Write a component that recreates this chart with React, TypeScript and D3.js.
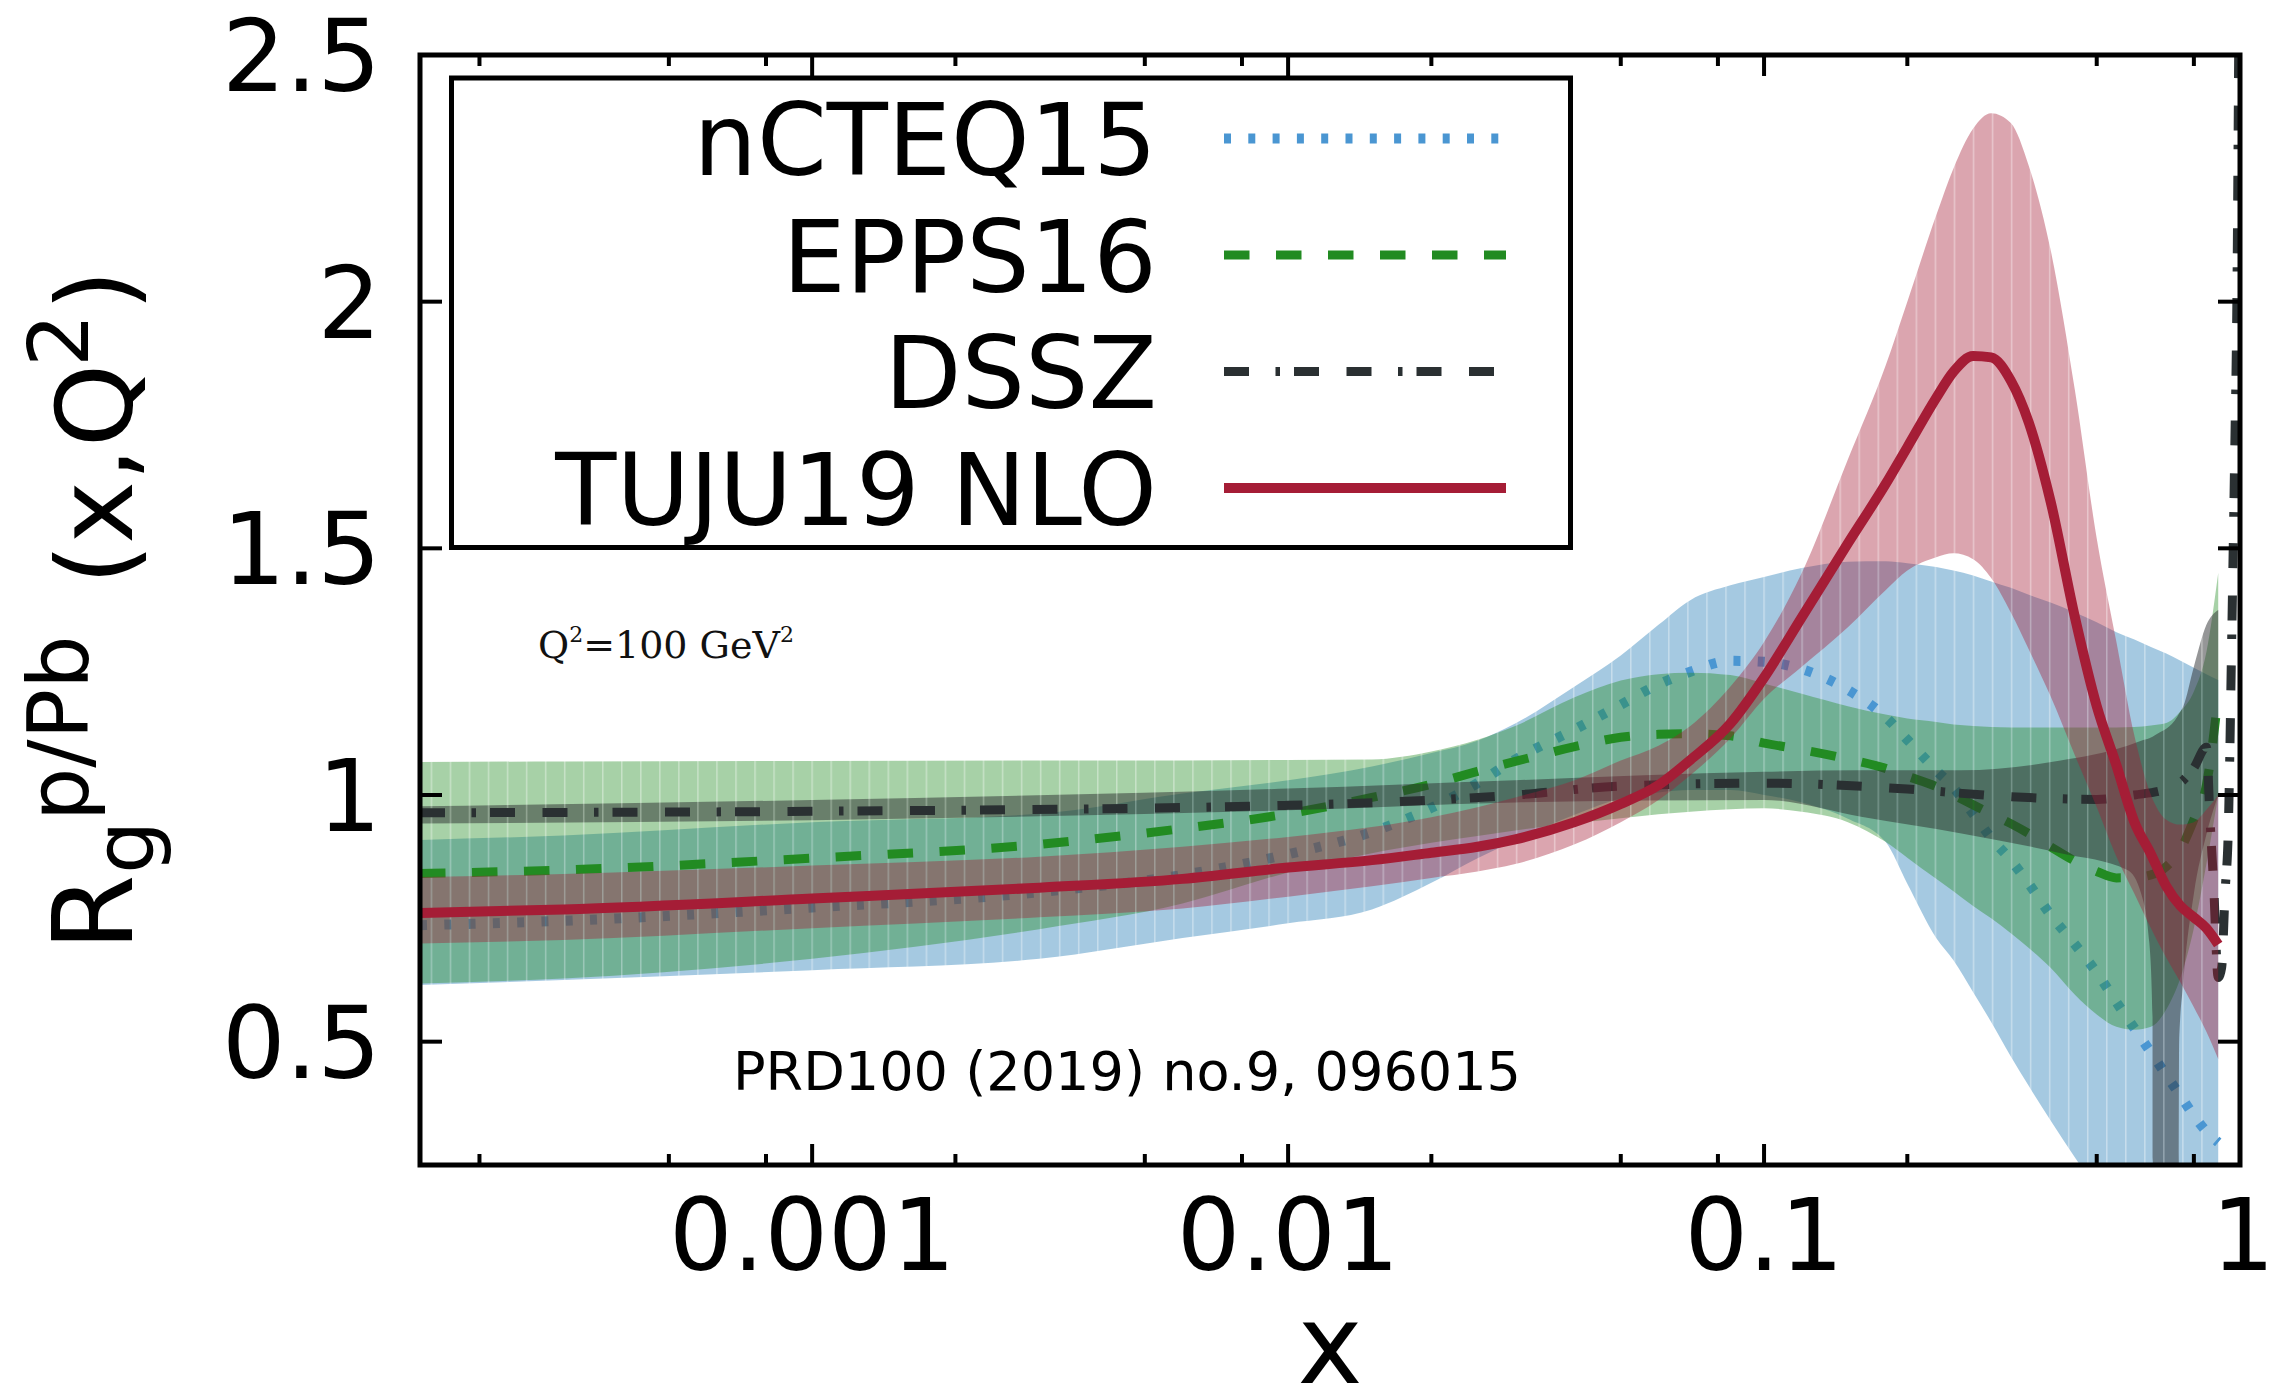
import React from "react";
import * as d3 from "d3";

const W = 2285;
const H = 1388;

// shared x grid for nCTEQ15, EPPS16, TUJU19
const xGrid = [1.5e-4, 3e-4, 1e-3, 3e-3, 0.006, 0.01, 0.015, 0.02, 0.025, 0.03, 0.04, 0.05, 0.06, 0.07, 0.085, 0.1, 0.12, 0.15, 0.18, 0.2, 0.23, 0.25, 0.275, 0.3, 0.33, 0.36, 0.4, 0.45, 0.5, 0.55, 0.6, 0.65, 0.7, 0.75, 0.8, 0.85, 0.9];

const nctCenter = [0.736, 0.745, 0.772, 0.803, 0.838, 0.88, 0.925, 0.974, 1.024, 1.072, 1.133, 1.183, 1.224, 1.25, 1.272, 1.27, 1.255, 1.213, 1.158, 1.112, 1.05, 1.015, 0.962, 0.913, 0.868, 0.82, 0.757, 0.697, 0.64, 0.58, 0.527, 0.478, 0.432, 0.39, 0.35, 0.318, 0.296];
const nctLower = [0.615, 0.625, 0.645, 0.668, 0.71, 0.74, 0.768, 0.822, 0.872, 0.908, 0.96, 0.993, 1.005, 1.01, 1.01, 1.0, 0.985, 0.952, 0.905, 0.82, 0.71, 0.665, 0.6, 0.54, 0.47, 0.41, 0.34, 0.265, 0.2, 0.13, 0.07, 0.01, -0.04, -0.09, -0.14, -0.19, -0.24];
const nctUpper = [0.909, 0.918, 0.945, 0.962, 1.003, 1.03, 1.058, 1.085, 1.11, 1.145, 1.22, 1.283, 1.345, 1.395, 1.425, 1.442, 1.46, 1.473, 1.474, 1.47, 1.462, 1.455, 1.445, 1.433, 1.42, 1.406, 1.39, 1.37, 1.35, 1.33, 1.315, 1.3, 1.287, 1.272, 1.258, 1.245, 1.233];

const eppsCenter = [0.841, 0.848, 0.872, 0.9, 0.932, 0.962, 0.995, 1.022, 1.048, 1.068, 1.098, 1.117, 1.123, 1.124, 1.12, 1.105, 1.092, 1.073, 1.054, 1.038, 1.017, 1.0, 0.98, 0.962, 0.942, 0.922, 0.895, 0.866, 0.845, 0.832, 0.833, 0.838, 0.855, 0.89, 0.95, 1.02, 1.2];
const eppsLower = [0.618, 0.628, 0.668, 0.728, 0.78, 0.843, 0.882, 0.903, 0.917, 0.928, 0.943, 0.953, 0.961, 0.966, 0.971, 0.973, 0.966, 0.945, 0.905, 0.873, 0.83, 0.805, 0.775, 0.75, 0.72, 0.69, 0.65, 0.595, 0.555, 0.53, 0.524, 0.53, 0.565, 0.63, 0.73, 0.86, 1.0];
const eppsUpper = [1.067, 1.068, 1.069, 1.07, 1.07, 1.071, 1.072, 1.088, 1.112, 1.14, 1.198, 1.232, 1.245, 1.248, 1.243, 1.226, 1.205, 1.18, 1.163, 1.155, 1.148, 1.143, 1.14, 1.138, 1.137, 1.137, 1.137, 1.137, 1.137, 1.137, 1.138, 1.141, 1.146, 1.17, 1.21, 1.29, 1.45];

const tujuCenter = [0.761, 0.768, 0.79, 0.812, 0.83, 0.853, 0.868, 0.883, 0.895, 0.91, 0.945, 0.982, 1.02, 1.071, 1.145, 1.238, 1.36, 1.51, 1.63, 1.705, 1.805, 1.858, 1.89, 1.887, 1.84, 1.755, 1.595, 1.36, 1.18, 1.06, 0.945, 0.88, 0.815, 0.775, 0.752, 0.73, 0.697];
const tujuLower = [0.699, 0.706, 0.73, 0.752, 0.77, 0.794, 0.815, 0.832, 0.845, 0.86, 0.9, 0.945, 0.99, 1.04, 1.115, 1.195, 1.26, 1.34, 1.415, 1.455, 1.482, 1.49, 1.478, 1.44, 1.37, 1.295, 1.2, 1.08, 0.975, 0.875, 0.8, 0.73, 0.67, 0.62, 0.57, 0.52, 0.465];
const tujuUpper = [0.834, 0.84, 0.857, 0.875, 0.895, 0.915, 0.935, 0.955, 0.975, 0.995, 1.03, 1.07, 1.1, 1.14, 1.22, 1.31, 1.45, 1.68, 1.87, 2.0, 2.175, 2.27, 2.351, 2.382, 2.362, 2.275, 2.105, 1.82, 1.52, 1.31, 1.12, 1.0, 0.95, 0.94, 0.945, 0.97, 1.0];

// DSSZ has its own grids
const dsszX = [1.5e-4, 1e-3, 0.01, 0.03, 0.05, 0.1, 0.2, 0.3, 0.4, 0.5, 0.6, 0.7, 0.76, 0.8, 0.85, 0.865, 0.88, 0.9, 0.915, 0.93, 0.945, 0.96, 0.975, 0.985, 0.995];
const dsszCenter = [0.964, 0.967, 0.979, 1.0, 1.018, 1.024, 1.012, 0.999, 0.993, 0.991, 1.0, 1.012, 1.03, 1.055, 1.097, 0.95, 0.82, 0.63, 0.65, 0.8, 0.93, 1.3, 1.7, 2.0, 2.6];
const dsszBandX = [1.5e-4, 1e-3, 0.01, 0.03, 0.1, 0.16, 0.26, 0.42, 0.58, 0.62, 0.645, 0.655, 0.66, 0.74, 0.745, 0.76, 0.8, 0.85, 0.9];
const dsszLower = [0.942, 0.949, 0.969, 0.985, 0.99, 0.956, 0.922, 0.882, 0.848, 0.8, 0.7, 0.55, -1, -1, 0.5, 0.62, 0.8, 0.92, 1.0];
const dsszUpper = [0.977, 0.99, 1.013, 1.03, 1.047, 1.05, 1.05, 1.07, 1.1, 1.11, 1.115, 1.118, 1.12, 1.16, 1.165, 1.18, 1.26, 1.345, 1.375];

const xMajorTicks = [1e-3, 1e-2, 1e-1];
const xTickLabels = ["0.001", "0.01", "0.1", "1"];
const xLabelValues = [1e-3, 1e-2, 1e-1, 1];
const xMinorMantissa = [2, 5, 8];
const xMinorDecades = [1e-4, 1e-3, 1e-2, 1e-1];
const yTicks = [0.5, 1, 1.5, 2];
const yLabelValues = [0.5, 1, 1.5, 2, 2.5];
const yTickLabels = ["0.5", "1", "1.5", "2", "2.5"];

const legendNames = ["nCTEQ15", "EPPS16", "DSSZ", "TUJU19 NLO"];

const BLUE_BAND = "#1f77b4";
const BLUE_LINE = "#4a96d2";
const GREEN = "#228b22";
const DSSZ_BAND = "#2c2e30";
const DSSZ_LINE = "#2a3032";
const RED = "#a51d36";

const DOTTED = "7,17.3";
const DASHED = "25.5,26.5";
const DASHDOT = "25,26.5,4.5,14,25,27.5";

const FONT = "DejaVu Sans";

export default function App() {
  const xs = d3.scaleLog().domain([1.5e-4, 1]).range([420, 2240]);
  const ys = d3.scaleLinear().domain([0.25, 2.5]).range([1165, 55]);
  const X0 = xs(1.5e-4), X1 = xs(1), Y0 = ys(2.5), Y1 = ys(0.25);

  const band = (xv: number[], lo: number[], hi: number[]) =>
    d3
      .area<number>()
      .x((_, i) => xs(xv[i]))
      .y0((_, i) => ys(lo[i]))
      .y1((_, i) => ys(hi[i]))
      .curve(d3.curveMonotoneX)(xv) as string;
  const line = (xv: number[], yv: number[]) =>
    d3
      .line<number>()
      .x((_, i) => xs(xv[i]))
      .y((_, i) => ys(yv[i]))
      .curve(d3.curveMonotoneX)(xv) as string;

  const stripeStart = xs(Math.pow(10, -3.8));
  const stripeStep = xs(Math.pow(10, -3.76)) - stripeStart;

  const minorTicks: number[] = [];
  xMinorDecades.forEach((d) =>
    xMinorMantissa.forEach((m) => {
      const v = m * d;
      if (v > 1.5e-4 && v < 1) minorTicks.push(v);
    })
  );

  const legendY = [138.5, 255, 371.5, 488];
  const legendBase = [175, 291.5, 408, 524.5];
  const legendStyles = [
    { stroke: BLUE_LINE, dash: DOTTED, w: 10 },
    { stroke: GREEN, dash: DASHED, w: 9 },
    { stroke: DSSZ_LINE, dash: DASHDOT, w: 9 },
    { stroke: RED, dash: "none", w: 10 },
  ];

  return (
    <svg
      width={W}
      height={H}
      viewBox={`0 0 ${W} ${H}`}
      style={{ position: "absolute", left: 0, top: 0, display: "block", background: "#fff" }}
    >
      <defs>
        <clipPath id="plotClip">
          <rect x={X0} y={Y0} width={X1 - X0} height={Y1 - Y0} />
        </clipPath>
        <pattern id="stripes" patternUnits="userSpaceOnUse" x={stripeStart - 0.75} y={0} width={stripeStep} height={H}>
          <rect x={0} y={0} width={stripeStep} height={H} fill="#ffffff" />
          <rect x={0} y={0} width={1.5} height={H} fill="#a0a0a0" />
        </pattern>
        <mask id="stripeMask" maskUnits="userSpaceOnUse" x={0} y={0} width={W} height={H}>
          <rect x={0} y={0} width={W} height={H} fill="url(#stripes)" />
        </mask>
      </defs>

      <rect x={0} y={0} width={W} height={H} fill="#ffffff" />

      <g clipPath="url(#plotClip)">
        <path d={band(xGrid, nctLower, nctUpper)} fill={BLUE_BAND} fillOpacity={0.4} mask="url(#stripeMask)" />
        <path d={line(xGrid, nctCenter)} fill="none" stroke={BLUE_LINE} strokeWidth={10} strokeDasharray={DOTTED} />

        <path d={band(xGrid, eppsLower, eppsUpper)} fill={GREEN} fillOpacity={0.4} mask="url(#stripeMask)" />
        <path d={line(xGrid, eppsCenter)} fill="none" stroke={GREEN} strokeWidth={9} strokeDasharray={DASHED} />

        <path d={band(dsszBandX, dsszLower, dsszUpper)} fill={DSSZ_BAND} fillOpacity={0.5} mask="url(#stripeMask)" />
        <path d={line(dsszX, dsszCenter)} fill="none" stroke={DSSZ_LINE} strokeWidth={9} strokeDasharray={DASHDOT} />

        <path d={band(xGrid, tujuLower, tujuUpper)} fill={RED} fillOpacity={0.4} mask="url(#stripeMask)" />
        <path d={line(xGrid, tujuCenter)} fill="none" stroke={RED} strokeWidth={10} strokeLinejoin="round" />
      </g>

      {/* annotations */}
      <text x={538} y={658} fontFamily="DejaVu Serif" fontSize={38} fill="#111">
        Q
        <tspan fontSize={22} dy={-16}>2</tspan>
        <tspan fontSize={38} dy={16}>=100 GeV</tspan>
        <tspan fontSize={22} dy={-16}>2</tspan>
      </text>
      <text x={733} y={1090} fontFamily={FONT} fontSize={53} textLength={788} lengthAdjust="spacingAndGlyphs" fill="#000">
        PRD100 (2019) no.9, 096015
      </text>

      {/* legend */}
      <rect x={451.5} y={78} width={1119} height={469.5} fill="none" stroke="#000" strokeWidth={5} />
      {legendNames.map((name, i) => (
        <g key={name}>
          <text x={1157} y={legendBase[i]} textAnchor="end" fontFamily={FONT} fontSize={100} fill="#000">
            {name}
          </text>
          <line
            x1={1224}
            x2={1506}
            y1={legendY[i]}
            y2={legendY[i]}
            stroke={legendStyles[i].stroke}
            strokeWidth={legendStyles[i].w}
            strokeDasharray={legendStyles[i].dash}
          />
        </g>
      ))}

      {/* ticks */}
      <g stroke="#000" strokeWidth={4}>
        {xMajorTicks.map((v) => (
          <g key={"xM" + v}>
            <line x1={xs(v)} x2={xs(v)} y1={Y1} y2={Y1 - 21} />
            <line x1={xs(v)} x2={xs(v)} y1={Y0} y2={Y0 + 21} />
          </g>
        ))}
        {minorTicks.map((v) => (
          <g key={"xm" + v}>
            <line x1={xs(v)} x2={xs(v)} y1={Y1} y2={Y1 - 11} />
            <line x1={xs(v)} x2={xs(v)} y1={Y0} y2={Y0 + 11} />
          </g>
        ))}
        {yTicks.map((v) => (
          <g key={"y" + v}>
            <line x1={X0} x2={X0 + 22} y1={ys(v)} y2={ys(v)} />
            <line x1={X1} x2={X1 - 22} y1={ys(v)} y2={ys(v)} />
          </g>
        ))}
      </g>

      {/* frame */}
      <rect x={X0} y={Y0} width={X1 - X0} height={Y1 - Y0} fill="none" stroke="#000" strokeWidth={5} />

      {/* tick labels */}
      {xLabelValues.map((v, i) => (
        <text key={"xl" + v} x={xs(v) + (v === 1 ? 3 : 0)} y={1270} textAnchor="middle" fontFamily={FONT} fontSize={100} fill="#000">
          {xTickLabels[i]}
        </text>
      ))}
      {yLabelValues.map((v, i) => (
        <text key={"yl" + v} x={381} y={ys(v) + 36} textAnchor="end" fontFamily={FONT} fontSize={100} fill="#000">
          {yTickLabels[i]}
        </text>
      ))}

      {/* axis titles */}
      <text x={(X0 + X1) / 2} y={1383} textAnchor="middle" fontFamily={FONT} fontSize={110} fill="#000">
        x
      </text>
      <g transform="translate(132,947) rotate(-90)" fontFamily={FONT} fill="#000">
        <text x={-4} y={0} fontSize={110}>R</text>
        <text x={73} y={22} fontSize={84}>g</text>
        <text x={126} y={-44} fontSize={84}>p/Pb</text>
        <text x={362} y={0} fontSize={106}>(x,Q</text>
        <text x={580} y={-44} fontSize={84}>2</text>
        <text x={636} y={0} fontSize={106}>)</text>
      </g>
    </svg>
  );
}
